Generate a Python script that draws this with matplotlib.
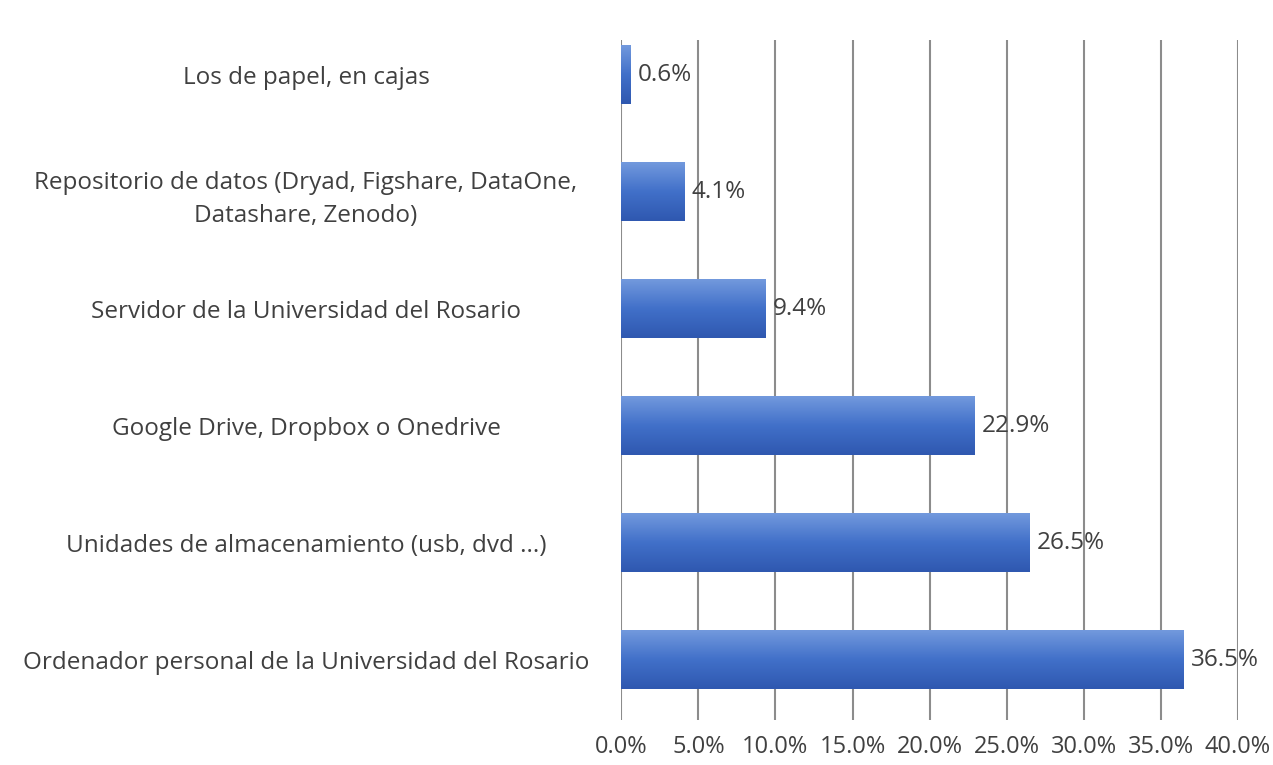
import numpy as np
import matplotlib.pyplot as plt
from matplotlib.colors import LinearSegmentedColormap

plt.rcParams['font.family'] = ['Open Sans', 'DejaVu Sans']

categorias = [
    'Ordenador personal de la Universidad del Rosario',
    'Unidades de almacenamiento (usb, dvd ...)',
    'Google Drive, Dropbox o Onedrive',
    'Servidor de la Universidad del Rosario',
    'Repositorio de datos (Dryad, Figshare, DataOne,\nDatashare, Zenodo)',
    'Los de papel, en cajas',
]
valores = [36.5, 26.5, 22.9, 9.4, 4.1, 0.6]
ticks = [0, 5, 10, 15, 20, 25, 30, 35, 40]

fig = plt.figure(figsize=(12.73, 7.65), dpi=100)
ax = fig.add_axes([0.488, 0.059, 0.4845, 0.889])

y = np.arange(len(categorias))
barras = ax.barh(y, valores, height=0.5, color='none', edgecolor='none', zorder=3)

# degradado vertical en cada barra (claro arriba, oscuro abajo)
cmap = LinearSegmentedColormap.from_list('azul', ['#7299dd', '#4170c9', '#2f58b0'])
grad = np.linspace(0, 1, 100).reshape(-1, 1)
for b in barras:
    x0, y0 = b.get_x(), b.get_y()
    w, h = b.get_width(), b.get_height()
    ax.imshow(grad, cmap=cmap, aspect='auto', extent=(x0, x0 + w, y0, y0 + h),
              origin='upper', zorder=3)
    ax.text(x0 + w + 0.45, y0 + h / 2, f'{w:.1f}%', va='center', ha='left',
            fontsize=17.5, color='#404040', zorder=4)

ax.set_xlim(0, 40)
ax.set_ylim(-0.51, 5.3)
ax.set_xticks(ticks)
ax.set_xticklabels([f'{t:.1f}%' for t in ticks], fontsize=17, color='#404040')
ax.set_yticks(y)
ax.set_yticklabels(categorias, fontsize=17.5, color='#404040', ha='center',
                   multialignment='center', linespacing=1.5)
ax.tick_params(axis='y', length=0, pad=227)
ax.tick_params(axis='x', length=0, pad=11)
ax.grid(axis='x', color='#8c8c8c', linewidth=1.5, zorder=0)
for s in ax.spines.values():
    s.set_visible(False)

fig.savefig('out.png', dpi=100)
